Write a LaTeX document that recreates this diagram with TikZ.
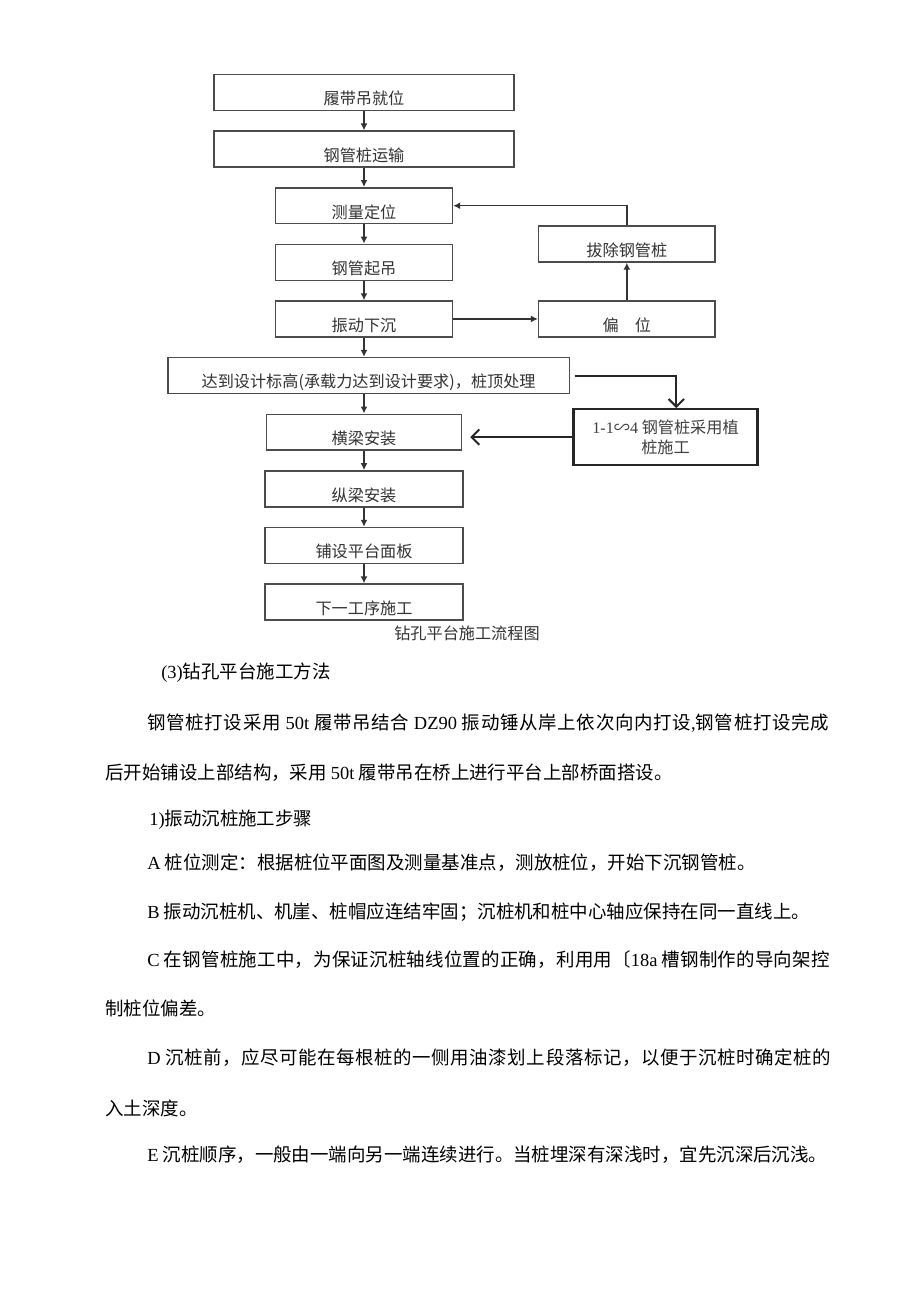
\documentclass[tikz,border=0pt]{standalone}
\usepackage{fontspec}
\setmainfont{Liberation Serif}
\newfontfamily\cjk{Noto Sans CJK SC}
\newfontfamily\tnr{Liberation Serif}
\usetikzlibrary{arrows.meta,positioning}

\begin{document}
\begin{tikzpicture}[
        x=0.65pt, y=-0.65pt,
        node distance=12.5pt and 12.5pt,
        stepbox/.style={draw=black!70, line width=1pt, fill=white, text=black!80,
            font=\cjk\fontsize{10.5}{12}\selectfont, minimum height=23.3pt,
            text height=17pt, text depth=1pt, inner xsep=4pt, inner ysep=2pt},
        notebox/.style={draw=black!85, line width=1.5pt, fill=white, text=black!75,
            align=center, font=\cjk\fontsize{10.5}{13}\selectfont,
            minimum width=119.5pt, minimum height=36.2pt},
        flow/.style={draw=black!80, line width=1pt, -{Latex[length=4.5pt,width=4.5pt]}},
        barb/.style={draw=black!85, line width=1.3pt, -{Straight Barb[length=5pt,width=10pt]}},
        textline/.style={anchor=west, inner sep=0pt, font=\cjk\fontsize{12}{14}\selectfont}
    ]

    \fill[white] (0,0) rectangle (920,1301);
    \useasboundingbox (0,0) rectangle (920,1301);

    % Nodes
    \node (lddw)[stepbox, minimum width=195pt] at (364,92.5) {履带吊就位};
    \node (gzys)[stepbox, minimum width=195pt, below=of lddw] {钢管桩运输};
    \node (cldw)[stepbox, minimum width=115pt, below=of gzys] {测量定位};
    \node (gqd)[stepbox, minimum width=115pt, below=of cldw] {钢管起吊};
    \node (zdxc)[stepbox, minimum width=115pt, below=of gqd] {振动下沉};
    \node (ddsj)[stepbox, minimum width=261pt, below=of zdxc, xshift=3pt]
        {达到设计标高(承载力达到设计要求)，桩顶处理};
    \node (hlaz)[stepbox, minimum width=127pt, below=of ddsj, xshift=-3pt] {横梁安装};
    \node (zlaz)[stepbox, minimum width=128.4pt, below=of hlaz] {纵梁安装};
    \node (psmb)[stepbox, minimum width=128.4pt, below=of zlaz] {铺设平台面板};
    \node (xygx)[stepbox, minimum width=128.4pt, below=of psmb] {下一工序施工};

    \node (pw)[stepbox, minimum width=114.7pt, right=55pt of zdxc] {偏\quad 位};
    \node (bcgg)[stepbox, minimum width=114.7pt, above=24.4pt of pw] {拔除钢管桩};

    \node (zzsg)[notebox, right=71.5pt of hlaz, yshift=-3.2pt]
        {{\tnr 1-1}∽{\tnr 4} 钢管桩采用植\\桩施工};

    \node (cap)[font=\cjk\fontsize{10.5}{12}\selectfont, text=black!80] at (467,633)
        {钻孔平台施工流程图};

    % Edges
    \draw[flow] (lddw) -- (gzys);
    \draw[flow] (gzys) -- (cldw);
    \draw[flow] (cldw) -- (gqd);
    \draw[flow] (gqd) -- (zdxc);
    \draw[flow] (zdxc.south) -- (zdxc.south |- ddsj.north);
    \draw[flow] (hlaz.north |- ddsj.south) -- (hlaz.north);
    \draw[flow] (hlaz) -- (zlaz);
    \draw[flow] (zlaz) -- (psmb);
    \draw[flow] (psmb) -- (xygx);

    \draw[flow] (zdxc) -- (pw);
    \draw[flow] (pw) -- (bcgg);
    \draw[flow] (bcgg.north) |- (cldw.east);

    \draw[barb, shorten <=3pt] (ddsj.east) -| ([xshift=7pt]zzsg.north);
    \draw[barb, shorten >=5pt] (zzsg.west) -- (zzsg.west -| hlaz.east);

    % Text
    \node (t1)[textline] at (161,673) {{\tnr (3)}钻孔平台施工方法};
    \node (t2)[textline] at (147,723)
        {\addfontfeatures{LetterSpace=3.8}钢管桩打设采用 {\tnr 50t} 履带吊结合 {\tnr DZ90} 振动锤从岸上依次向内打设{\tnr ,}钢管桩打设完成};
    \node (t3)[textline] at (105,773)
        {后开始铺设上部结构，采用 {\tnr 50t} 履带吊在桥上进行平台上部桥面搭设。};
    \node (t4)[textline] at (149,820) {{\tnr 1)}振动沉桩施工步骤};
    \node (t5)[textline] at (147,863)
        {{\tnr A} 桩位测定：根据桩位平面图及测量基准点，测放桩位，开始下沉钢管桩。};
    \node (t6)[textline] at (147,912)
        {{\tnr B} 振动沉桩机、机崖、桩帽应连结牢固；沉桩机和桩中心轴应保持在同一直线上。};
    \node (t7)[textline] at (147,960)
        {\addfontfeatures{LetterSpace=1.2}{\tnr C} 在钢管桩施工中，为保证沉桩轴线位置的正确，利用用〔{\tnr 18a} 槽钢制作的导向架控};
    \node (t8)[textline] at (105,1008) {制桩位偏差。};
    \node (t9)[textline] at (147,1058)
        {\addfontfeatures{LetterSpace=3.1}{\tnr D} 沉桩前，应尽可能在每根桩的一侧用油漆划上段落标记，以便于沉桩时确定桩的};
    \node (t10)[textline] at (105,1108) {入土深度。};
    \node (t11)[textline] at (147,1155)
        {{\tnr E} 沉桩顺序，一般由一端向另一端连续进行。当桩埋深有深浅时，宜先沉深后沉浅。};

\end{tikzpicture}
\end{document}
